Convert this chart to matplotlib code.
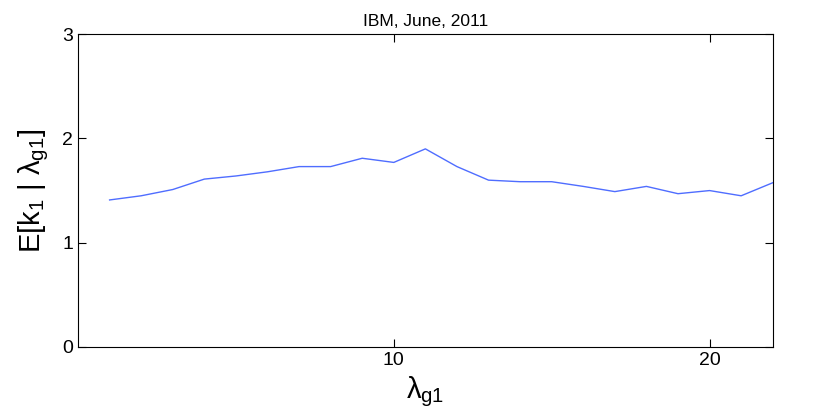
import matplotlib
matplotlib.use("Agg")
import matplotlib.pyplot as plt

plt.rcParams['font.family'] = ['Liberation Sans', 'DejaVu Sans']
plt.rcParams['mathtext.fontset'] = 'custom'
plt.rcParams['mathtext.rm'] = 'Liberation Sans'
plt.rcParams['mathtext.it'] = 'Liberation Sans'
plt.rcParams['mathtext.bf'] = 'Liberation Sans:bold'

# lambda_g1 values and conditional expectation
lam = [1, 2, 3, 4, 5, 6, 7, 8, 9, 10, 11, 12, 13, 14, 15, 16, 17, 18, 19, 20, 21, 22]
ek1 = [1.41, 1.45, 1.51, 1.61, 1.64, 1.68, 1.73, 1.73, 1.81, 1.77, 1.90,
       1.73, 1.60, 1.585, 1.585, 1.54, 1.49, 1.54, 1.47, 1.50, 1.45, 1.575]

fig = plt.figure(figsize=(8.3, 4.17), dpi=100)
ax = fig.add_axes([0.094, 0.168, 0.837, 0.750])

ax.plot(lam, ek1, color='#4f6dff', linewidth=1.0)

ax.set_xlim(0, 22)
ax.set_ylim(0, 3)
ax.set_xticks([10, 20])
ax.set_yticks([0, 1, 2, 3])
ax.tick_params(direction='in', top=True, right=True, labelsize=14, length=6, width=0.8)
for s in ax.spines.values():
    s.set_linewidth(0.8)

ax.set_title('IBM, June, 2011', fontsize=12.5, pad=6)
ax.set_xlabel(r'$\lambda_{g1}$', fontsize=21, labelpad=4)
ax.set_ylabel(r'E[k$_1$ | $\lambda_{g1}$]', fontsize=21, labelpad=8)

fig.savefig('out.png', dpi=100)
